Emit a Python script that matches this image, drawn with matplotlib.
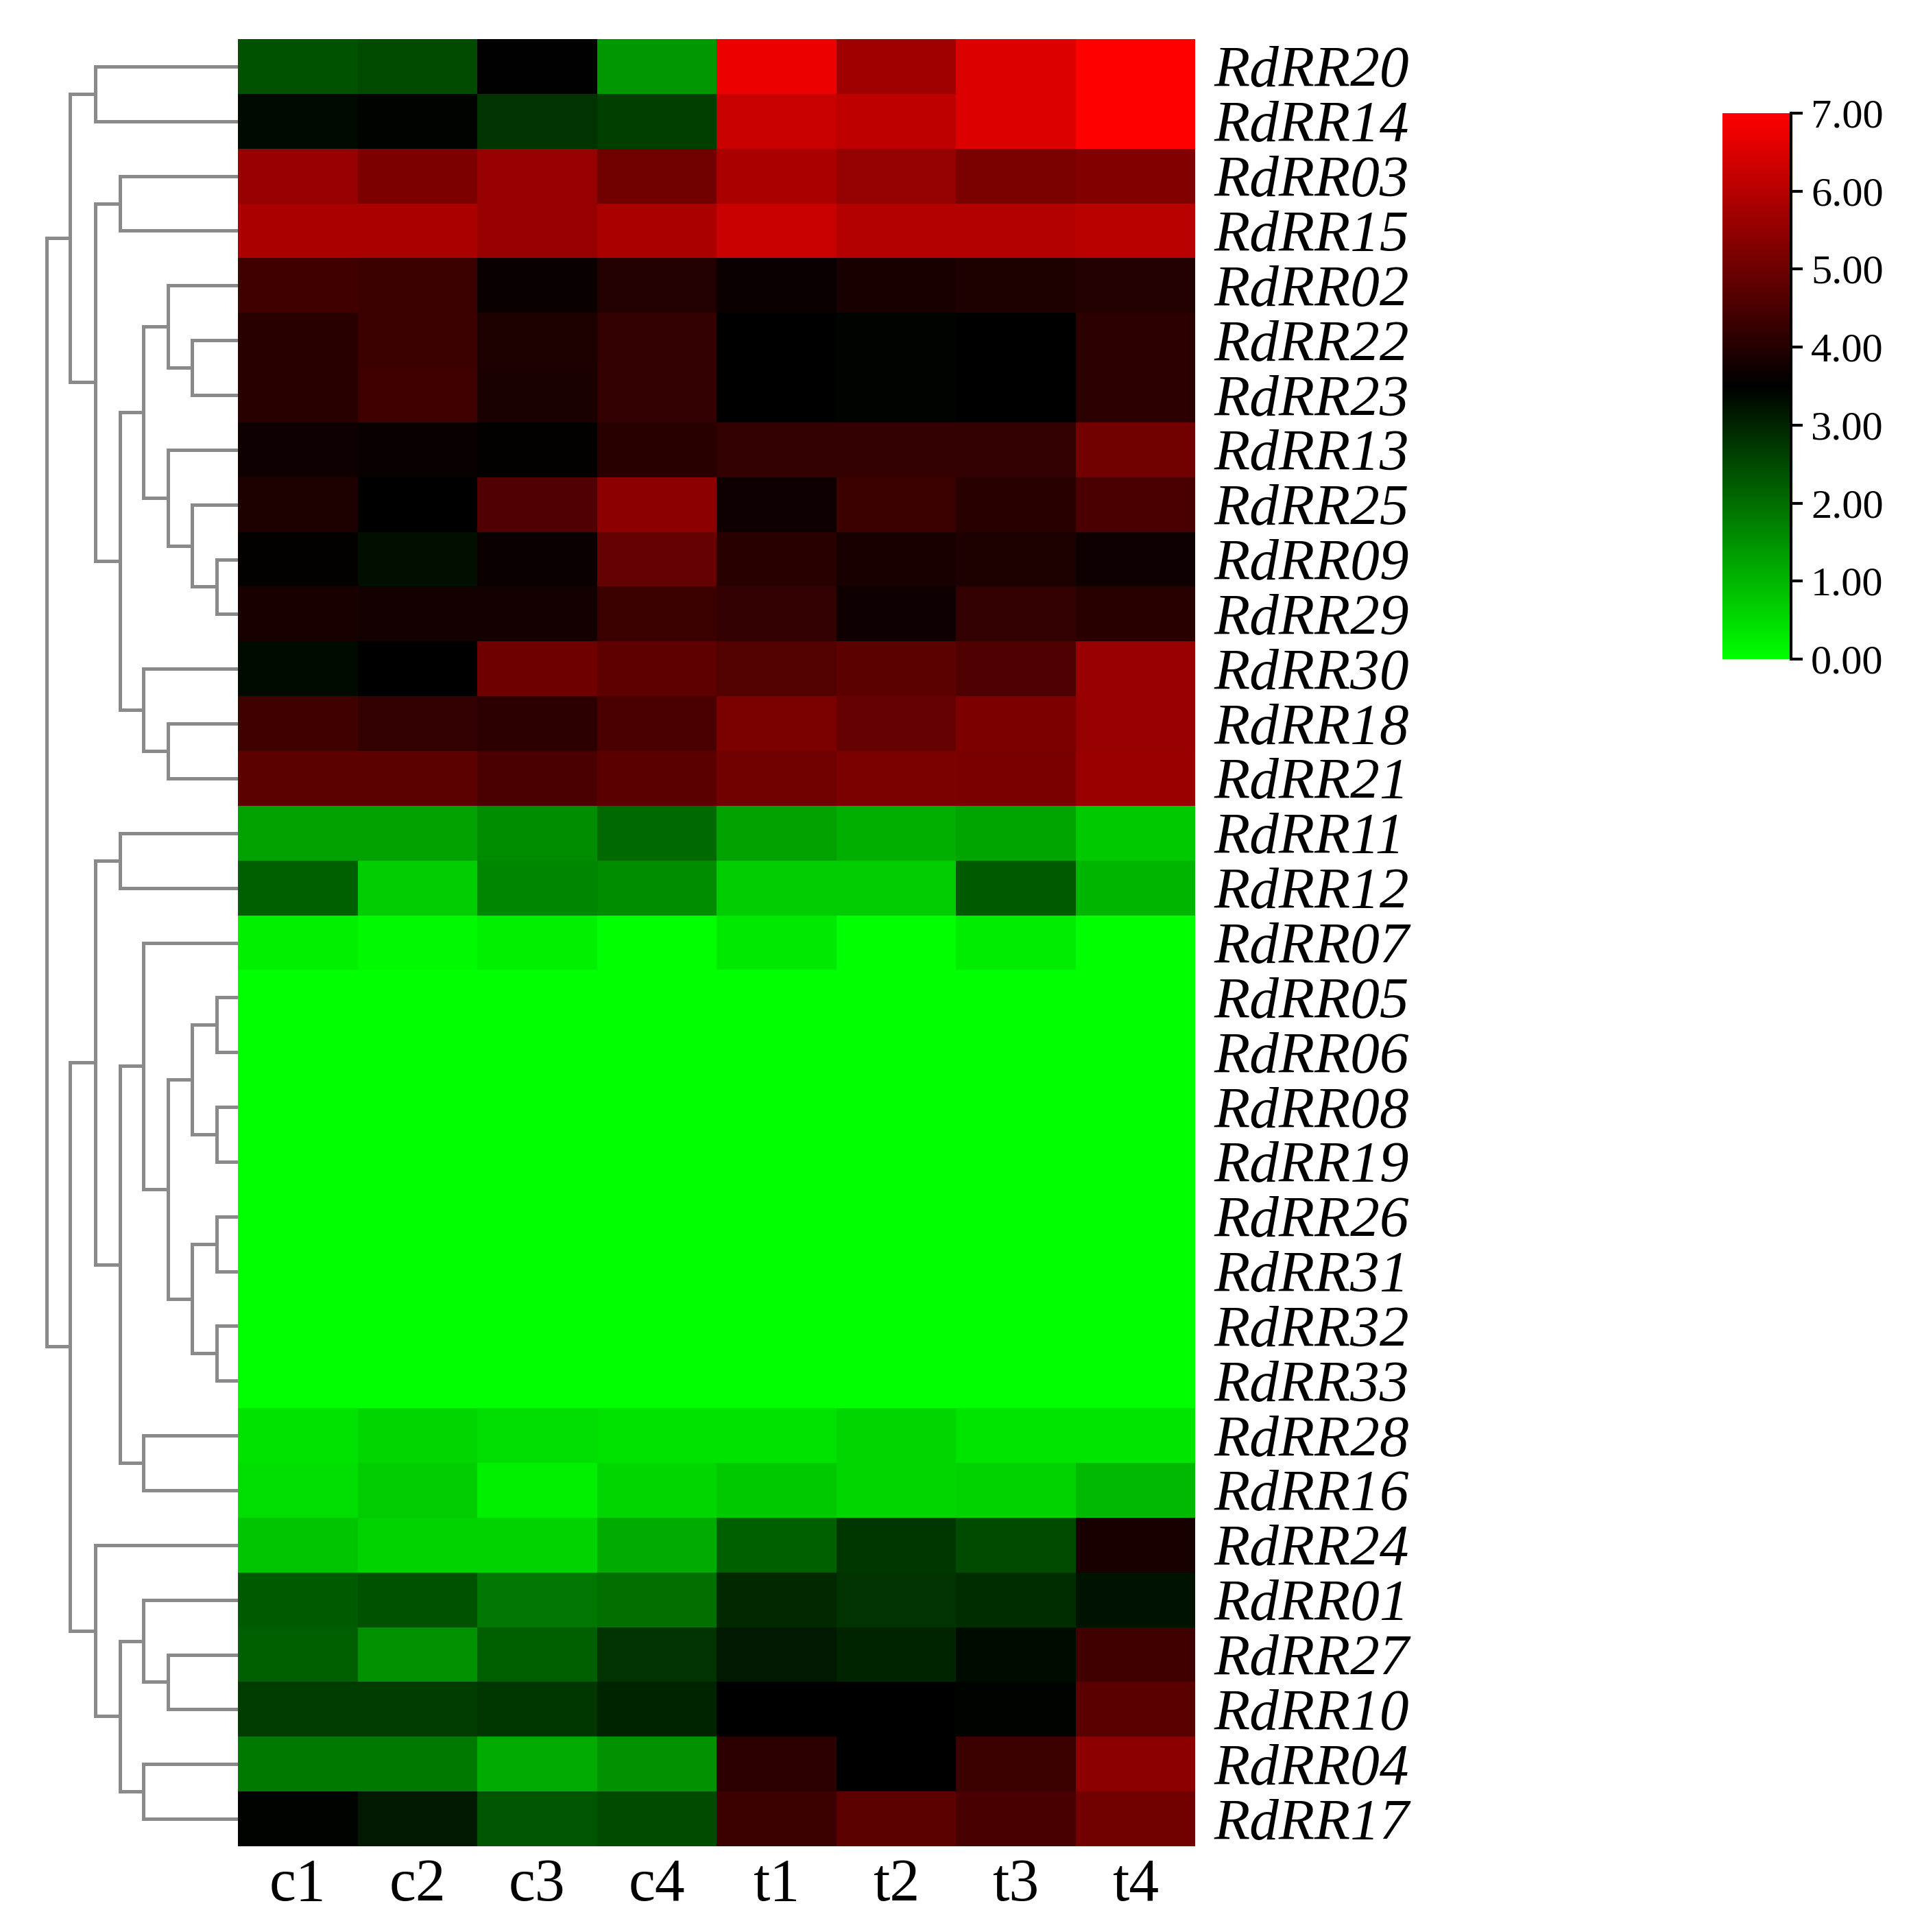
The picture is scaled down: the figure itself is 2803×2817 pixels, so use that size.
import matplotlib
matplotlib.use("Agg")
import matplotlib.pyplot as plt
import numpy as np
from matplotlib.colors import LinearSegmentedColormap

plt.rcParams["font.family"] = ["Liberation Serif", "DejaVu Serif"]

samples = ["c1", "c2", "c3", "c4", "t1", "t2", "t3", "t4"]

genes = ["RdRR20", "RdRR14", "RdRR03", "RdRR15", "RdRR02", "RdRR22", "RdRR23",
         "RdRR13", "RdRR25", "RdRR09", "RdRR29", "RdRR30", "RdRR18", "RdRR21",
         "RdRR11", "RdRR12", "RdRR07", "RdRR05", "RdRR06", "RdRR08", "RdRR19",
         "RdRR26", "RdRR31", "RdRR32", "RdRR33", "RdRR28", "RdRR16", "RdRR24",
         "RdRR01", "RdRR27", "RdRR10", "RdRR04", "RdRR17"]

# expression values, one list per gene (c1..c4, t1..t4)
expr = [
    [2.40, 2.47, 3.48, 1.44, 6.73, 5.70, 6.52, 7.00],  # RdRR20
    [3.39, 3.46, 2.81, 2.65, 6.25, 6.11, 6.52, 7.00],  # RdRR14
    [5.56, 5.22, 5.56, 5.08, 5.83, 5.53, 5.17, 5.28],  # RdRR03
    [5.83, 5.83, 5.56, 5.83, 6.25, 5.97, 5.97, 6.04],  # RdRR15
    [4.39, 4.32, 3.61, 3.98, 3.64, 3.84, 3.91, 3.98],  # RdRR02
    [4.05, 4.32, 3.91, 4.19, 3.50, 3.46, 3.50, 4.12],  # RdRR22
    [4.05, 4.35, 3.88, 4.21, 3.50, 3.47, 3.50, 4.12],  # RdRR23
    [3.71, 3.61, 3.53, 4.05, 4.19, 4.19, 4.19, 5.08],  # RdRR13
    [3.91, 3.50, 4.60, 5.42, 3.71, 4.32, 4.05, 4.53],  # RdRR25
    [3.57, 3.29, 3.64, 4.87, 4.05, 3.84, 3.91, 3.71],  # RdRR09
    [3.84, 3.75, 3.77, 4.32, 4.19, 3.71, 4.19, 4.05],  # RdRR29
    [3.36, 3.50, 5.01, 4.80, 4.63, 4.76, 4.57, 5.56],  # RdRR30
    [4.35, 4.19, 4.12, 4.53, 5.17, 4.87, 5.22, 5.56],  # RdRR18
    [4.76, 4.76, 4.53, 4.74, 5.04, 5.17, 5.15, 5.63],  # RdRR21
    [1.30, 1.30, 1.58, 2.06, 1.30, 1.10, 1.24, 0.75],  # RdRR11
    [2.20, 0.69, 1.65, 1.58, 0.69, 0.69, 2.26, 1.03],  # RdRR12
    [0.21, 0.07, 0.21, 0.00, 0.32, 0.00, 0.27, 0.00],  # RdRR07
    [0.00, 0.00, 0.00, 0.00, 0.00, 0.00, 0.00, 0.00],  # RdRR05
    [0.00, 0.00, 0.00, 0.00, 0.00, 0.00, 0.00, 0.00],  # RdRR06
    [0.00, 0.00, 0.00, 0.00, 0.00, 0.00, 0.00, 0.00],  # RdRR08
    [0.00, 0.00, 0.00, 0.00, 0.00, 0.00, 0.00, 0.00],  # RdRR19
    [0.00, 0.00, 0.00, 0.00, 0.00, 0.00, 0.00, 0.00],  # RdRR26
    [0.00, 0.00, 0.00, 0.00, 0.00, 0.00, 0.00, 0.00],  # RdRR31
    [0.00, 0.00, 0.00, 0.00, 0.00, 0.00, 0.00, 0.00],  # RdRR32
    [0.00, 0.00, 0.00, 0.00, 0.00, 0.00, 0.00, 0.00],  # RdRR33
    [0.41, 0.55, 0.48, 0.41, 0.41, 0.55, 0.37, 0.37],  # RdRR28
    [0.48, 0.69, 0.21, 0.55, 0.75, 0.55, 0.62, 0.96],  # RdRR16
    [0.82, 0.62, 0.62, 1.17, 2.20, 2.75, 2.47, 3.84],  # RdRR24
    [2.26, 2.40, 1.88, 1.99, 2.95, 2.81, 2.88, 3.25],  # RdRR01
    [2.20, 1.51, 2.20, 2.81, 3.16, 3.02, 3.34, 4.39],  # RdRR27
    [2.68, 2.68, 2.75, 3.02, 3.50, 3.50, 3.47, 4.74],  # RdRR10
    [1.85, 1.85, 1.17, 1.51, 4.12, 3.50, 4.32, 5.42],  # RdRR04
    [3.46, 3.16, 2.33, 2.47, 4.32, 4.76, 4.49, 5.08],  # RdRR17
]

# row clustering: (child, child, height); ints refer to earlier merges
merges = [
    ("RdRR20", "RdRR14", 5.95),   # 0
    ("RdRR03", "RdRR15", 4.92),   # 1
    ("RdRR22", "RdRR23", 1.92),   # 2
    ("RdRR02", 2, 2.92),          # 3
    ("RdRR09", "RdRR29", 0.9),    # 4
    ("RdRR25", 4, 1.92),          # 5
    ("RdRR13", 5, 2.92),          # 6
    (3, 6, 3.93),                 # 7
    ("RdRR18", "RdRR21", 2.92),   # 8
    ("RdRR30", 8, 3.93),          # 9
    (7, 9, 4.92),                 # 10
    (1, 10, 5.95),                # 11
    (0, 11, 7.0),                 # 12
    ("RdRR11", "RdRR12", 4.92),   # 13
    ("RdRR05", "RdRR06", 0.9),    # 14
    ("RdRR08", "RdRR19", 0.9),    # 15
    (14, 15, 1.92),               # 16
    ("RdRR26", "RdRR31", 0.9),    # 17
    ("RdRR32", "RdRR33", 0.9),    # 18
    (17, 18, 1.92),               # 19
    (16, 19, 2.92),               # 20
    ("RdRR07", 20, 3.93),         # 21
    ("RdRR28", "RdRR16", 3.93),   # 22
    (21, 22, 4.92),               # 23
    (13, 23, 5.95),               # 24
    ("RdRR27", "RdRR10", 2.92),   # 25
    ("RdRR01", 25, 3.93),         # 26
    ("RdRR04", "RdRR17", 3.93),   # 27
    (26, 27, 4.92),               # 28
    ("RdRR24", 28, 5.95),         # 29
    (24, 29, 7.0),                # 30
    (12, 30, 7.98),               # 31
]

W, H = 2803, 2817
fig = plt.figure(figsize=(W / 300, H / 300), dpi=300)

hx0, hx1, hy0, hy1 = 347, 1743, 57, 2692
bottom = 1 - hy1 / H
height = (hy1 - hy0) / H

cmap = LinearSegmentedColormap.from_list("gkr", [(0, 1, 0), (0, 0, 0), (1, 0, 0)])

# heatmap
ax = fig.add_axes([hx0 / W, bottom, (hx1 - hx0) / W, height])
data = np.array(expr)
mesh = ax.pcolormesh(data, cmap=cmap, vmin=0, vmax=7)
ax.set_xlim(0, len(samples))
ax.set_ylim(len(genes), 0)
ax.set_xticks(np.arange(len(samples)) + 0.5)
ax.set_xticklabels(samples, fontsize=21)
ax.set_yticks(np.arange(len(genes)) + 0.5)
ax.set_yticklabels(genes, fontsize=20.5, style="italic")
ax.yaxis.tick_right()
ax.tick_params(axis="both", length=0)
ax.tick_params(axis="y", pad=6.5)
ax.tick_params(axis="x", pad=4)
for s in ax.spines.values():
    s.set_visible(False)

# dendrogram
step = 35.0
axd = fig.add_axes([0, bottom, hx0 / W, height])
axd.set_xlim(hx0 / step, 0)
axd.set_ylim(len(genes), 0)
axd.axis("off")

pos = {}
for i, g in enumerate(genes):
    pos[g] = (i + 0.5, 0.0)

def where(c):
    if isinstance(c, int):
        return pos[("node", c)]
    return pos[c]

lc = "#8a8a8a"
for k, (a, b, h) in enumerate(merges):
    ya, ha = where(a)
    yb, hb = where(b)
    axd.plot([ha, h], [ya, ya], color=lc, lw=1.2, solid_capstyle="butt")
    axd.plot([hb, h], [yb, yb], color=lc, lw=1.2, solid_capstyle="butt")
    axd.plot([h, h], [ya, yb], color=lc, lw=1.2, solid_capstyle="projecting")
    pos[("node", k)] = ((ya + yb) / 2, h)

# colorbar
cax = fig.add_axes([2512 / W, 1 - 961 / H, 100 / W, 796 / H])
cb = fig.colorbar(mesh, cax=cax, ticks=range(8), format="%.2f")
cb.outline.set_visible(False)
cax.spines["right"].set_visible(True)
cax.spines["right"].set_linewidth(1.0)
cax.tick_params(direction="out", length=4, width=1, labelsize=14.5, pad=3)

fig.savefig("out.png", dpi=300)
